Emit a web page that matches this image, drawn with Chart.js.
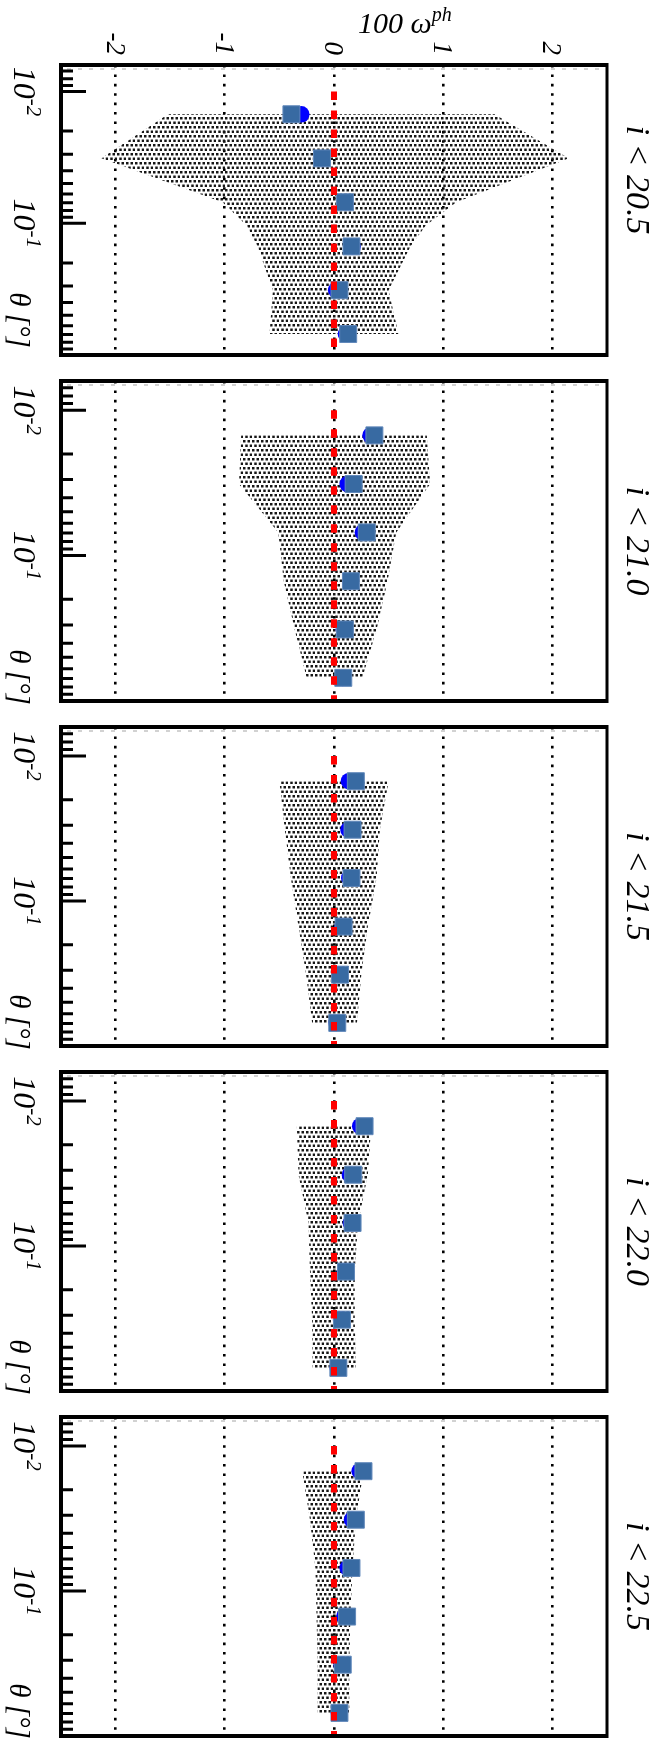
<!DOCTYPE html>
<html>
<head>
<meta charset="utf-8">
<script src="https://cdn.jsdelivr.net/npm/chart.js@4.4.1/dist/chart.umd.min.js"></script>
<style>
html, body { margin: 0; padding: 0; background: #fff; overflow: hidden; }
#wrap { position: relative; width: 661px; height: 1746px; overflow: hidden; background: #fff; }
#wrap canvas { position: absolute; left: 0; }
</style>
</head>
<body>
<div id="wrap"></div>
<script>
// one panel per magnitude cut
var panelLabels = ["i < 20.5", "i < 21.0", "i < 21.5", "i < 22.0", "i < 22.5"];

// angular bins [deg]
var theta = [0.0149, 0.0322, 0.0693, 0.150, 0.322, 0.693];

// 100 w^ph, squares and circles, one row per panel
var wSquare = [
  [-0.39, -0.11, 0.10, 0.16, 0.05, 0.13],
  [0.37, 0.18, 0.30, 0.155, 0.10, 0.085],
  [0.20, 0.17, 0.16, 0.088, 0.055, 0.03],
  [0.28, 0.176, 0.17, 0.11, 0.073, 0.04],
  [0.27, 0.20, 0.16, 0.12, 0.08, 0.05]
];
var wCircle = [
  [-0.30, -0.11, 0.10, 0.17, 0.02, 0.11],
  [0.335, 0.125, 0.265, 0.15, 0.09, 0.08],
  [0.137, 0.133, 0.14, 0.078, 0.05, 0.024],
  [0.24, 0.146, 0.155, 0.10, 0.065, 0.035],
  [0.235, 0.165, 0.125, 0.095, 0.07, 0.045]
];

// shaded band: theta nodes and lower / upper edge
var envTheta = [
  [0.0149, 0.0322, 0.0693, 0.104, 0.150, 0.322, 0.693],
  theta, theta, theta, theta
];
var envLow = [
  [-1.52, -2.13, -1.02, -0.80, -0.70, -0.56, -0.59],
  [-0.85, -0.87, -0.51, -0.46, -0.36, -0.25],
  [-0.50, -0.45, -0.395, -0.325, -0.255, -0.20],
  [-0.34, -0.325, -0.234, -0.22, -0.20, -0.195],
  [-0.29, -0.22, -0.17, -0.16, -0.15, -0.15]
];
var envHigh = [
  [1.47, 2.15, 1.12, 0.84, 0.70, 0.50, 0.59],
  [0.85, 0.88, 0.57, 0.49, 0.39, 0.26],
  [0.50, 0.42, 0.39, 0.31, 0.25, 0.21],
  [0.34, 0.31, 0.22, 0.19, 0.19, 0.20],
  [0.27, 0.20, 0.17, 0.15, 0.14, 0.14]
];

// reference line w = 0
var zeroTheta = [0.01, 1.0];

// axis ticks
var wTicks = [-2, -1, 0, 1, 2];
var wTickLabels = ["-2", "-1", "0", "1", "2"];
var thetaMajor = [0.01, 0.1];
var thetaMajorExp = ["-2", "-1"];
var thetaMinor = [0.007, 0.008, 0.009, 0.02, 0.03, 0.04, 0.05, 0.06, 0.07, 0.08, 0.09,
                  0.2, 0.3, 0.4, 0.5, 0.6, 0.7, 0.8, 0.9];

// panel boxes on the page: plot top, plot height, room above the plot
var boxes = [[65, 303, 65], [368, 346, 0], [714, 345, 0], [1059, 345, 0], [1404, 345, 0]];
var labelY = [180, null, null, null, null];
var thetaLabelY = [320, 677, 1022, 1367, 1711];

var FONT = 'Liberation Serif';

// halftone fill for the band
var tile = document.createElement('canvas');
tile.width = 9; tile.height = 9;
var tc = tile.getContext('2d');
tc.fillStyle = '#161616';
[[0, 0], [4.5, 0], [2.25, 4.5], [6.75, 4.5]].forEach(function (p) {
  tc.fillRect(p[0], p[1], 2.5, 2.5);
});
var dots = tc.createPattern(tile, 'repeat');

function setFont(ctx, size) {
  ctx.font = 'italic ' + size + 'px ' + FONT;
}

function rotText(ctx, text, x, y, size, align, dy) {
  ctx.save();
  ctx.translate(x, y);
  ctx.rotate(Math.PI / 2);
  setFont(ctx, size);
  ctx.textAlign = align;
  ctx.textBaseline = 'alphabetic';
  ctx.fillText(text, 0, dy || 0);
  ctx.restore();
}

function drawPow(ctx, x, y, exp) {
  ctx.save();
  ctx.translate(x, y);
  ctx.rotate(Math.PI / 2);
  ctx.textBaseline = 'alphabetic';
  ctx.textAlign = 'left';
  setFont(ctx, 32);
  var w1 = ctx.measureText('10').width;
  setFont(ctx, 21);
  var w2 = ctx.measureText(exp).width;
  var x0 = -(w1 + w2) / 2;
  setFont(ctx, 32);
  ctx.fillText('10', x0, 0);
  setFont(ctx, 21);
  ctx.fillText(exp, x0 + w1, -13);
  ctx.restore();
}

var frame = {
  id: 'frame',
  afterDraw: function (chart, args, opts) {
    var ctx = chart.ctx, a = chart.chartArea;
    var xs = chart.scales.x, ys = chart.scales.y;
    var i = opts.panel;
    var top = boxes[i][0] - boxes[i][2];
    ctx.save();
    ctx.fillStyle = '#000';

    // faint dashes under the top edge
    ctx.strokeStyle = '#c4c4c4';
    ctx.lineWidth = 1.5;
    ctx.setLineDash([4, 7]);
    ctx.beginPath();
    ctx.moveTo(a.left + 6, a.top + 4);
    ctx.lineTo(a.right - 2, a.top + 4);
    ctx.stroke();
    ctx.setLineDash([]);

    // log ticks pointing in from the left edge
    ctx.strokeStyle = '#000';
    ctx.lineWidth = 3;
    ctx.beginPath();
    thetaMinor.forEach(function (v) {
      var y = ys.getPixelForValue(v);
      ctx.moveTo(a.left, y); ctx.lineTo(a.left + 12, y);
    });
    thetaMajor.forEach(function (v) {
      var y = ys.getPixelForValue(v);
      ctx.moveTo(a.left, y); ctx.lineTo(a.left + 25, y);
    });
    ctx.stroke();

    // frame
    ctx.lineWidth = 4;
    ctx.beginPath();
    ctx.moveTo(a.right, a.top); ctx.lineTo(a.left, a.top);
    ctx.lineTo(a.left, a.bottom); ctx.lineTo(a.right, a.bottom);
    ctx.stroke();
    ctx.lineWidth = 3;
    ctx.beginPath();
    ctx.moveTo(a.right, a.top - 2); ctx.lineTo(a.right, a.bottom + 2);
    ctx.stroke();

    // theta axis labels
    thetaMajor.forEach(function (v, k) {
      drawPow(ctx, 14, ys.getPixelForValue(v), thetaMajorExp[k]);
    });
    rotText(ctx, 'θ [°]', 10, thetaLabelY[i] - top, 29, 'center');

    // magnitude cut
    var ly = labelY[i] !== null ? labelY[i] - top : (a.top + a.bottom) / 2;
    rotText(ctx, panelLabels[i], 627, ly, 34, 'center');

    if (i === 0) {
      wTicks.forEach(function (v, k) {
        rotText(ctx, wTickLabels[k], xs.getPixelForValue(v), 55, 27, 'right', 9);
      });
      ctx.textAlign = 'left';
      ctx.textBaseline = 'alphabetic';
      setFont(ctx, 30);
      var w = ctx.measureText('100 ω').width;
      ctx.fillText('100 ω', 358, 33);
      setFont(ctx, 20);
      ctx.fillText('ph', 358 + w, 21);
    }
    ctx.restore();
  }
};

var wrap = document.getElementById('wrap');

function makePanel(i) {
  var cv = document.createElement('canvas');
  cv.width = 661;
  cv.height = boxes[i][1] + boxes[i][2];
  cv.style.top = (boxes[i][0] - boxes[i][2]) + 'px';
  cv.style.width = '661px';
  cv.style.height = cv.height + 'px';
  wrap.appendChild(cv);

  var band = [];
  envTheta[i].forEach(function (t, k) { band.push({x: envLow[i][k], y: t}); });
  for (var k = envTheta[i].length - 1; k >= 0; k--) {
    band.push({x: envHigh[i][k], y: envTheta[i][k]});
  }

  new Chart(cv, {
    type: 'scatter',
    data: {
      datasets: [
        {
          type: 'line',
          data: zeroTheta.map(function (t) { return {x: 0, y: t}; }),
          borderColor: '#ff0000',
          borderWidth: 6,
          borderDash: [8.5, 10.5],
          borderCapStyle: 'butt',
          pointRadius: 0,
          fill: false,
          order: 0
        },
        {
          data: theta.map(function (t, k) { return {x: wSquare[i][k], y: t}; }),
          pointStyle: 'rect',
          pointRadius: 12,
          backgroundColor: '#386aa2',
          borderColor: '#6289bb',
          borderWidth: 1,
          order: 1
        },
        {
          data: theta.map(function (t, k) { return {x: wCircle[i][k], y: t}; }),
          pointStyle: 'circle',
          pointRadius: 8.3,
          backgroundColor: '#0000ff',
          borderColor: '#0000ff',
          borderWidth: 0,
          order: 2
        },
        {
          type: 'line',
          data: band,
          fill: 'shape',
          backgroundColor: dots,
          borderColor: 'rgba(0,0,0,0)',
          borderWidth: 0,
          pointRadius: 0,
          tension: 0,
          order: 3
        }
      ]
    },
    options: {
      responsive: false,
      animation: false,
      events: [],
      layout: { padding: { left: 61, right: 54, top: boxes[i][2], bottom: 0 } },
      plugins: {
        legend: { display: false },
        tooltip: { enabled: false },
        frame: { panel: i }
      },
      scales: {
        x: {
          type: 'linear',
          position: 'top',
          min: -2.5,
          max: 2.5,
          afterBuildTicks: function (scale) {
            scale.ticks = wTicks.map(function (v) { return {value: v}; });
          },
          ticks: { display: false },
          grid: { color: '#000', lineWidth: 2.6, drawTicks: false },
          border: { display: false, dash: [2.6, 6.8] }
        },
        y: {
          type: 'logarithmic',
          reverse: true,
          min: 0.0063,
          max: 1,
          display: false
        }
      }
    },
    plugins: [frame]
  });
}

for (var p = 0; p < 5; p++) makePanel(p);
</script>
</body>
</html>
